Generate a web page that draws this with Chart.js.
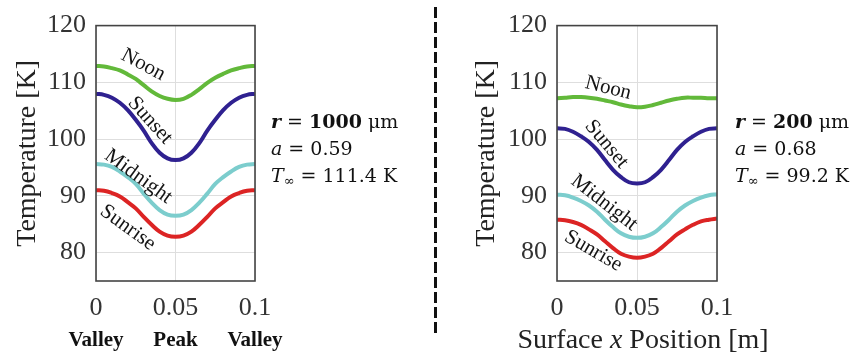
<!DOCTYPE html>
<html>
<head>
<meta charset="utf-8">
<script src="https://cdn.jsdelivr.net/npm/chart.js@4.4.1/dist/chart.umd.min.js"></script>
<style>
  html, body { margin: 0; padding: 0; background: #fff; }
  #wrap { position: relative; width: 860px; height: 358px; overflow: hidden; }
  canvas { position: absolute; top: 0; }
  #cLeft { left: 0; }
  #cRight { left: 459px; }
  .note { position: absolute; font-family: "DejaVu Serif", serif; font-size: 19px; line-height: 27px; color: #111; white-space: nowrap; }
  .note sub { font-size: 13px; vertical-align: -3px; line-height: 0; }
  .divider { position: absolute; left: 434px; top: 7px; width: 3px; height: 326px;
    background: repeating-linear-gradient(to bottom, #111 0, #111 11px, transparent 11px, transparent 15px); }
  .xtitle { position: absolute; top: 322px; left: 512px; width: 262px; text-align: center;
    font-family: "Liberation Serif", "Times New Roman", serif; font-size: 28px; line-height: 34px; color: #222; white-space: nowrap; }
</style>
</head>
<body>
<div id="wrap">
  <canvas id="cLeft" width="430" height="358"></canvas>
  <canvas id="cRight" width="401" height="358"></canvas>
  <div class="divider"></div>
  <div class="note" style="left:271px; top:108px;">
    <div><b><i>r</i></b> = <b>1000</b> μm</div>
    <div><i>a</i> = 0.59</div>
    <div><i>T</i><sub>∞</sub> = 111.4 K</div>
  </div>
  <div class="note" style="left:735px; top:108px;">
    <div><b><i>r</i></b> = <b>200</b> μm</div>
    <div><i>a</i> = 0.68</div>
    <div><i>T</i><sub>∞</sub> = 99.2 K</div>
  </div>
  <div class="xtitle">Surface <i>x</i> Position [m]</div>
</div>
<script>
// Surface position along one period, valley to valley [m]
const xPositions = [0, 0.005, 0.01, 0.015, 0.02, 0.025, 0.03, 0.035, 0.04, 0.045, 0.05,
                    0.055, 0.06, 0.065, 0.07, 0.075, 0.08, 0.085, 0.09, 0.095, 0.1];

// r = 1000 um surface temperatures [K]
const bigNoon     = [112.9, 112.8, 112.5, 112.1, 111.4, 110.6, 109.5, 108.4, 107.6, 107.1, 106.9,
                     107.1, 107.8, 108.8, 109.9, 110.8, 111.5, 112.1, 112.5, 112.8, 112.9];
const bigSunset   = [108.0, 107.8, 107.3, 106.4, 105.1, 103.4, 101.5, 99.3, 97.6, 96.6, 96.3,
                     96.6, 97.6, 99.3, 101.5, 103.4, 105.1, 106.4, 107.3, 107.8, 108.0];
const bigMidnight = [95.6, 95.5, 95.1, 94.3, 93.3, 92.1, 90.4, 88.8, 87.5, 86.7, 86.5,
                     86.7, 87.5, 88.8, 90.4, 92.1, 93.3, 94.3, 95.1, 95.5, 95.6];
const bigSunrise  = [91.0, 90.9, 90.5, 89.9, 88.9, 87.8, 86.3, 84.9, 83.7, 83.0, 82.8,
                     83.0, 83.7, 84.9, 86.3, 87.8, 88.9, 89.9, 90.5, 90.9, 91.0];

// r = 200 um surface temperatures [K]
const smallNoon     = [107.2, 107.3, 107.4, 107.4, 107.3, 107.1, 106.8, 106.5, 106.1, 105.8, 105.6,
                       105.7, 106.0, 106.4, 106.8, 107.1, 107.3, 107.3, 107.3, 107.2, 107.2];
const smallSunset   = [101.9, 101.8, 101.3, 100.5, 99.5, 98.1, 96.3, 94.6, 93.3, 92.4, 92.2,
                       92.4, 93.3, 94.6, 96.3, 98.1, 99.5, 100.5, 101.3, 101.8, 101.9];
const smallMidnight = [90.2, 90.1, 89.7, 89.1, 88.3, 87.2, 85.8, 84.5, 83.4, 82.8, 82.6,
                       82.8, 83.4, 84.5, 85.8, 87.2, 88.3, 89.1, 89.7, 90.1, 90.3];
const smallSunrise  = [85.8, 85.7, 85.4, 84.9, 84.1, 83.2, 82.0, 80.8, 79.8, 79.3, 79.1,
                       79.3, 79.8, 80.8, 82.0, 83.2, 84.1, 84.9, 85.5, 85.8, 86.0];

const seriesNames = ['Noon', 'Sunset', 'Midnight', 'Sunrise'];
const xTicks = [0, 0.05, 0.1];
const xTickLabels = ['0', '0.05', '0.1'];
const surfaceLabels = ['Valley', 'Peak', 'Valley'];
const yTicks = [80, 90, 100, 110, 120];

// Curve name anchors in data units (x, T) with text angle in degrees
const bigNameX = [0.0297, 0.034, 0.0266, 0.020];
const bigNameY = [113.1, 103.3, 93.4, 84.4];
const bigNameAngle = [28, 48, 36, 36];
const smallNameX = [0.032, 0.031, 0.0295, 0.0227];
const smallNameY = [109.0, 99.1, 88.8, 80.3];
const smallNameAngle = [14, 50, 38, 30];

const colors = ['#62b93a', '#2f2190', '#7ccdcd', '#dc2424'];
const serif = '"Liberation Serif", "Times New Roman", serif';

function toPoints(values) {
  return values.map((v, i) => ({ x: xPositions[i], y: v }));
}

function makeDatasets(seriesList) {
  return seriesList.map((vals, i) => ({
    label: seriesNames[i],
    data: toPoints(vals),
    borderColor: colors[i],
    borderWidth: 4,
    pointRadius: 0,
    tension: 0.4,
    fill: false
  }));
}

// Frame around the plot area
const framePlugin = {
  id: 'frame',
  afterDraw(chart) {
    const a = chart.chartArea;
    const ctx = chart.ctx;
    ctx.save();
    ctx.strokeStyle = '#444';
    ctx.lineWidth = 1.6;
    ctx.strokeRect(a.left, a.top, a.right - a.left, a.bottom - a.top);
    ctx.restore();
  }
};

// Names written along each curve
const curveNamesPlugin = {
  id: 'curveNames',
  afterDatasetsDraw(chart, args, opts) {
    const ctx = chart.ctx;
    const xs = chart.scales.x, ys = chart.scales.y;
    ctx.save();
    ctx.font = '21px ' + serif;
    ctx.fillStyle = '#151515';
    ctx.textAlign = 'center';
    ctx.textBaseline = 'middle';
    seriesNames.forEach((name, i) => {
      const px = xs.getPixelForValue(opts.xs[i]);
      const py = ys.getPixelForValue(opts.ys[i]);
      ctx.save();
      ctx.translate(px, py);
      ctx.rotate(opts.angles[i] * Math.PI / 180);
      ctx.fillText(name, 0, 0);
      ctx.restore();
    });
    ctx.restore();
  }
};

function makeChart(canvasId, seriesList, names, withSurfaceRow, padRight) {
  const scales = {
    x: {
      type: 'linear', min: 0, max: 0.1, position: 'bottom', weight: 0,
      afterBuildTicks(s) { s.ticks = xTicks.map(v => ({ value: v })); },
      afterFit(s) { s.height = 44; },
      grid: { color: '#dedede', lineWidth: 1, drawTicks: false },
      border: { display: false },
      ticks: {
        padding: 12, color: '#333', font: { family: serif, size: 26 },
        callback: (v, i) => xTickLabels[i], maxRotation: 0, autoSkip: false
      }
    },
    y: {
      type: 'linear', min: 75, max: 120,
      afterBuildTicks(s) { s.ticks = yTicks.map(v => ({ value: v })); },
      afterFit(s) { s.width = withSurfaceRow ? 96 : 98; },
      grid: { color: '#dedede', lineWidth: 1, drawTicks: false },
      border: { display: false },
      ticks: {
        padding: 10, color: '#333', font: { family: serif, size: 26 },
        callback: v => String(v)
      },
      title: {
        display: true, text: 'Temperature [K]', color: '#222',
        font: { family: serif, size: 28 }, padding: { top: 11, bottom: 0 }
      }
    }
  };
  if (withSurfaceRow) {
    scales.x2 = {
      type: 'linear', min: 0, max: 0.1, position: 'bottom', weight: 1,
      afterBuildTicks(s) { s.ticks = xTicks.map(v => ({ value: v })); },
      afterFit(s) { s.height = 33; },
      grid: { display: false, drawTicks: false },
      border: { display: false },
      ticks: {
        padding: 3, color: '#111', font: { family: serif, size: 21, weight: 'bold' },
        callback: (v, i) => surfaceLabels[i], maxRotation: 0, autoSkip: false
      }
    };
  } else {
    scales.x.afterFit = s => { s.height = 77; };
  }
  return new Chart(document.getElementById(canvasId), {
    type: 'line',
    data: { datasets: makeDatasets(seriesList) },
    options: {
      responsive: false,
      animation: false,
      layout: { padding: { top: 17.5, right: padRight, bottom: 0, left: 0 } },
      plugins: {
        legend: { display: false },
        tooltip: { enabled: false },
        curveNames: names
      },
      scales
    },
    plugins: [framePlugin, curveNamesPlugin]
  });
}

makeChart('cLeft', [bigNoon, bigSunset, bigMidnight, bigSunrise],
  { xs: bigNameX, ys: bigNameY, angles: bigNameAngle }, true, 175);
makeChart('cRight', [smallNoon, smallSunset, smallMidnight, smallSunrise],
  { xs: smallNameX, ys: smallNameY, angles: smallNameAngle }, false, 143);
</script>
</body>
</html>
